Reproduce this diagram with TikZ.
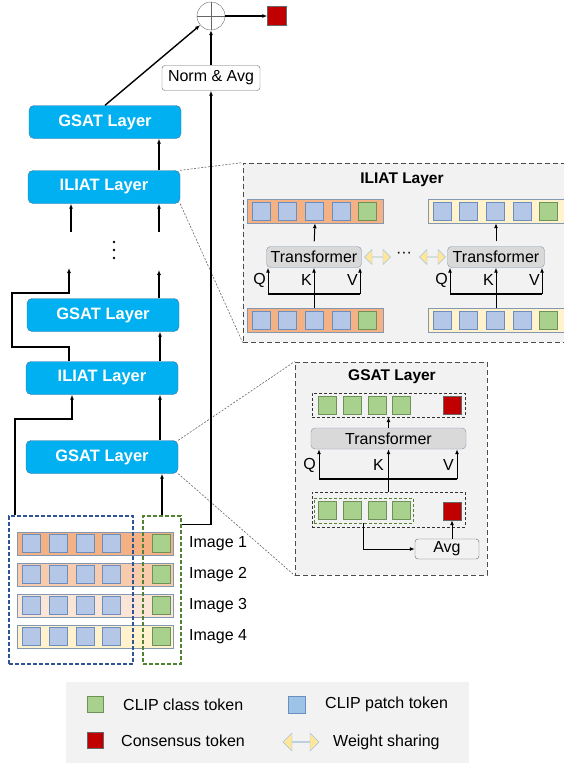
\documentclass[tikz,border=0pt]{standalone}
\usepackage{fontspec}
\setmainfont{Liberation Sans}
\usetikzlibrary{arrows.meta,shapes.arrows,positioning}

\definecolor{laycol}{HTML}{00B0F0}
\definecolor{laydraw}{HTML}{41719C}
\definecolor{patchcol}{HTML}{B4C7E7}
\definecolor{patchdraw}{HTML}{6C8EBF}
\definecolor{legblue}{HTML}{9DC3E6}
\definecolor{clscol}{HTML}{A9D18E}
\definecolor{clsdraw}{HTML}{70905A}
\definecolor{conscol}{HTML}{C00000}
\definecolor{rowa}{HTML}{F4B183}
\definecolor{rowb}{HTML}{F8CBAD}
\definecolor{rowc}{HTML}{FBE5D6}
\definecolor{rowd}{HTML}{FFF2CC}
\definecolor{rowdraw}{HTML}{8497B0}
\definecolor{panelcol}{HTML}{F2F2F2}
\definecolor{trcol}{HTML}{D9D9D9}
\definecolor{sharecol}{HTML}{FFE699}
\definecolor{bluedash}{HTML}{2F5597}
\definecolor{greendash}{HTML}{548235}

\tikzset{
  layer/.style={draw=laydraw, fill=laycol, rounded corners=5pt, minimum width=152pt,
    minimum height=33pt, inner sep=0pt, text=white, font=\bfseries\fontsize{16.5}{19}\selectfont},
  patch/.style={draw=patchdraw, fill=patchcol, minimum size=18pt, inner sep=0pt},
  cls/.style={draw=clsdraw, fill=clscol, minimum size=18pt, inner sep=0pt},
  cons/.style={draw=black!60, fill=conscol, minimum size=18pt, inner sep=0pt},
  tokrow/.style={draw=rowdraw, minimum height=24pt, inner sep=0pt},
  trans/.style={draw=rowdraw, fill=trcol, rounded corners=4pt, minimum height=21pt, inner sep=0pt},
  panelbox/.style={draw=black!70, dash pattern=on 5pt off 3pt, line width=0.8pt, fill=panelcol, inner sep=0pt},
  zoomline/.style={dash pattern=on 2pt off 1.5pt, black!60, line width=0.6pt},
  share/.style={double arrow, draw=legblue, fill=sharecol, minimum width=15pt,
    double arrow head extend=3pt, inner sep=0pt},
  qkv/.style={anchor=east, inner sep=1pt},
  conn/.style={line width=1.4pt},
  thinconn/.style={line width=1pt},
  tokbox/.style={dash pattern=on 4pt off 2pt, line width=1.2pt}
}

\begin{document}
\begin{tikzpicture}[x=1pt, y=-1pt, font=\fontsize{16}{19}\selectfont, >={Latex[length=5pt,width=4pt]}]
\useasboundingbox (0,0) rectangle (564,766);

% zoom lines
\node[layer] (g4) at (105,122) {GSAT Layer};
\node[layer] (i3) at (104,187) {ILIAT Layer};
\node[layer] (g2) at (103,315) {GSAT Layer};
\node[layer] (i1) at (102,378) {ILIAT Layer};
\node[layer] (g1) at (102,457) {GSAT Layer};
\node[panelbox, minimum width=332pt, minimum height=179pt] (ilpanel) at (409,252.5) {};
\node[panelbox, minimum width=192pt, minimum height=213pt] (gspanel) at (391,468.5) {};
\draw[zoomline] (i3.north east) -- (ilpanel.north west);
\draw[zoomline] (i3.south east) -- (ilpanel.south west);
\draw[zoomline] (g1.north east) -- (gspanel.north west);
\draw[zoomline] (g1.south east) -- (gspanel.south west);

% output
\node[circle, draw=black!60, minimum size=28pt, inner sep=0pt] (sum) at (211,16) {};
\draw[black!60] (sum.north) -- (sum.south) (sum.west) -- (sum.east);
\node[cons, minimum size=19pt] (out) at (277,16) {};
\draw[conn, ->] (sum) -- (out);
\node[draw=black!60, rounded corners=3pt, minimum width=98pt, minimum height=25pt, inner sep=0pt] (norm) at (211,78) {Norm \& Avg};
\draw[conn, ->] (norm) -- (sum);
\draw[conn, ->] (g4.north) -- (sum);

% layer stack
\draw[conn, ->] ([xshift=55pt]i3.north) -- ([xshift=55pt]i3.north |- g4.south);
\coordinate (d1) at (71,232);
\coordinate (d2) at (159,232);
\draw[conn, ->] (d1) -- (d1 |- i3.south);
\draw[conn, ->] (d2) -- (d2 |- i3.south);
\foreach \k in {242,250,258}
  \fill (114,\k) circle (1.4pt);
\coordinate (u1) at (69,268);
\coordinate (u2) at (159,270);
\draw[conn, ->] (g2.north -| u2) -- (u2);
\draw[conn, ->] (i1.north -| u1) -- (69,347) -- (12,347) -- (12,293) -- (69,293) -- (u1);
\draw[conn, ->] ([xshift=58pt]i1.north) -- ([xshift=58pt]i1.north |- g2.south);
\draw[conn, ->] ([xshift=58pt]g1.north) -- ([xshift=58pt]g1.north |- i1.south);

% input images
\foreach \i/\c in {1/rowa,2/rowb,3/rowc,4/rowd} {
  \node[tokrow, fill=\c, minimum width=156pt, minimum height=23pt] (img\i) at (95,512.5+31*\i) {};
  \foreach \j in {0,...,3}
    \node[patch] (img\i p\j) at (31.5+26.7*\j,512.5+31*\i) {};
  \node[cls] (img\i c) at (161,512.5+31*\i) {};
  \node[anchor=west, inner sep=0pt] (lab\i) at (189,512.5+31*\i) {Image \i};
}
\node[draw=bluedash, tokbox, minimum width=124pt, minimum height=148pt] (patchbox) at (71,590) {};
\node[draw=greendash, tokbox, minimum width=38pt, minimum height=148pt] (clsbox) at (162,590) {};
\draw[conn, ->] (clsbox.north) -- (clsbox.north |- g1.south);
\draw[conn, ->] ([xshift=6.5pt]patchbox.north west) -- ++(0,-96.5) -| ([xshift=-30pt]i1.south);
\draw[conn, ->] ([yshift=-9pt]clsbox.north east) -| (norm.south);

% ILIAT layer detail
\node[font=\bfseries\fontsize{15.5}{18}\selectfont] (iltitle) at (402,180) {ILIAT Layer};
\foreach \n/\x/\y/\c in {tl/315/211/rowa, bl/315/320/rowa, tr/496/211/rowd, br/496/320/rowd} {
  \node[tokrow, fill=\c, minimum width=136pt] (\n) at (\x,\y) {};
  \foreach \j in {0,...,3}
    \node[patch] (\n\j) at (\x-54+26.6*\j,\y) {};
  \node[cls] (\n4) at (\x-54+26.6*4,\y) {};
}
\node[trans, minimum width=95pt] (trl) at (314,257) {Transformer};
\node[trans, minimum width=97pt] (trr) at (496,257) {Transformer};
\draw[thinconn, ->, shorten <=5pt] (trl.north) -- (tl.south);
\draw[thinconn, ->, shorten <=5pt] (trr.north) -- (tr.south);
\coordinate (ql) at (268,294);
\coordinate (vl) at (360,294);
\coordinate (qr) at (450,294);
\coordinate (vr) at (542,294);
\draw[conn] (ql) -- (vl);
\draw[conn] (qr) -- (vr);
\draw[thinconn, ->] (ql) -- (ql |- trl.south);
\draw[thinconn, ->] (vl) -- (vl |- trl.south);
\draw[thinconn, ->] (bl.north -| trl) -- (trl.south);
\draw[thinconn, ->] (qr) -- (qr |- trr.south);
\draw[thinconn, ->] (vr) -- (vr |- trr.south);
\draw[thinconn, ->] (br.north -| trr) -- (trr.south);
\node[qkv] (ql1) at (267,280) {Q};
\node[qkv] (kl1) at (313,280) {K};
\node[qkv] (vl1) at (359,280) {V};
\node[qkv] (qr1) at (449,280) {Q};
\node[qkv] (kr1) at (495,280) {K};
\node[qkv] (vr1) at (541,280) {V};
\node[share, minimum height=26pt] (sh1) at (377.5,257) {};
\node[share, minimum height=26pt] (sh2) at (432.5,257) {};
\node (ell) at (404,255) {···};

% GSAT layer detail
\node[font=\bfseries\fontsize{15.5}{18}\selectfont] (gstitle) at (392,377) {GSAT Layer};
\node[draw=black!80, dash pattern=on 3pt off 2pt, minimum width=153pt, minimum height=24pt] (gtop) at (388.5,405) {};
\node[draw=black!80, dash pattern=on 3pt off 2pt, minimum width=153pt, minimum height=35pt] (gbot) at (388.5,509.5) {};
\node[draw=greendash, dash pattern=on 3pt off 2pt, minimum width=99pt, minimum height=25pt] (ginner) at (363.5,510.5) {};
\foreach \j in {0,...,3} {
  \node[cls] (gt\j) at (327.5+24.7*\j,405) {};
  \node[cls] (gb\j) at (327.5+24.7*\j,510.5) {};
}
\node[cons] (gtred) at (452,405) {};
\node[cons] (gbred) at (452,511) {};
\node[trans, minimum width=155pt] (gtr) at (388.5,438.5) {Transformer};
\draw[thinconn, ->] (gtr.north) -- (gtop.south);
\coordinate (qg) at (319,479);
\coordinate (vg) at (457,479);
\draw[conn] (qg) -- (vg);
\draw[thinconn, ->] (qg) -- (qg |- gtr.south);
\draw[thinconn, ->] (vg) -- (vg |- gtr.south);
\draw[thinconn, ->] (gbot.north) -- (gtr.south);
\node[qkv] (qg1) at (317,465) {Q};
\node[qkv] (kg1) at (385,465) {K};
\node[qkv] (vg1) at (455,465) {V};
\node[draw=black!60, rounded corners=3pt, minimum width=64pt, minimum height=20pt, inner sep=0pt] (avg) at (447,549) {Avg};
\draw[thinconn, ->] (ginner.south) |- (avg.west);
\draw[thinconn, ->] (avg.north -| gbred) -- (gbred.south);

% legend
\node[fill=panelcol, minimum width=403pt, minimum height=81pt] (legend) at (267.5,722.5) {};
\node[cls, minimum size=16pt] (lgcls) at (95,704.5) {};
\node[anchor=west, inner sep=0pt] (lgclst) at (123,704.5) {CLIP class token};
\node[patch, fill=legblue, minimum size=17pt] (lgpat) at (296.5,704.5) {};
\node[anchor=west, inner sep=0pt] (lgpatt) at (325,704.5) {CLIP patch token};
\node[cons, minimum size=16pt] (lgcons) at (95,740.5) {};
\node[anchor=west, inner sep=0pt] (lgconst) at (121,741) {Consensus token};
\node[share, minimum height=36pt, minimum width=18pt, double arrow head extend=4pt] (lgshare) at (301,742) {};
\node[anchor=west, inner sep=0pt] (lgsharet) at (333,742) {Weight sharing};
\end{tikzpicture}
\end{document}
